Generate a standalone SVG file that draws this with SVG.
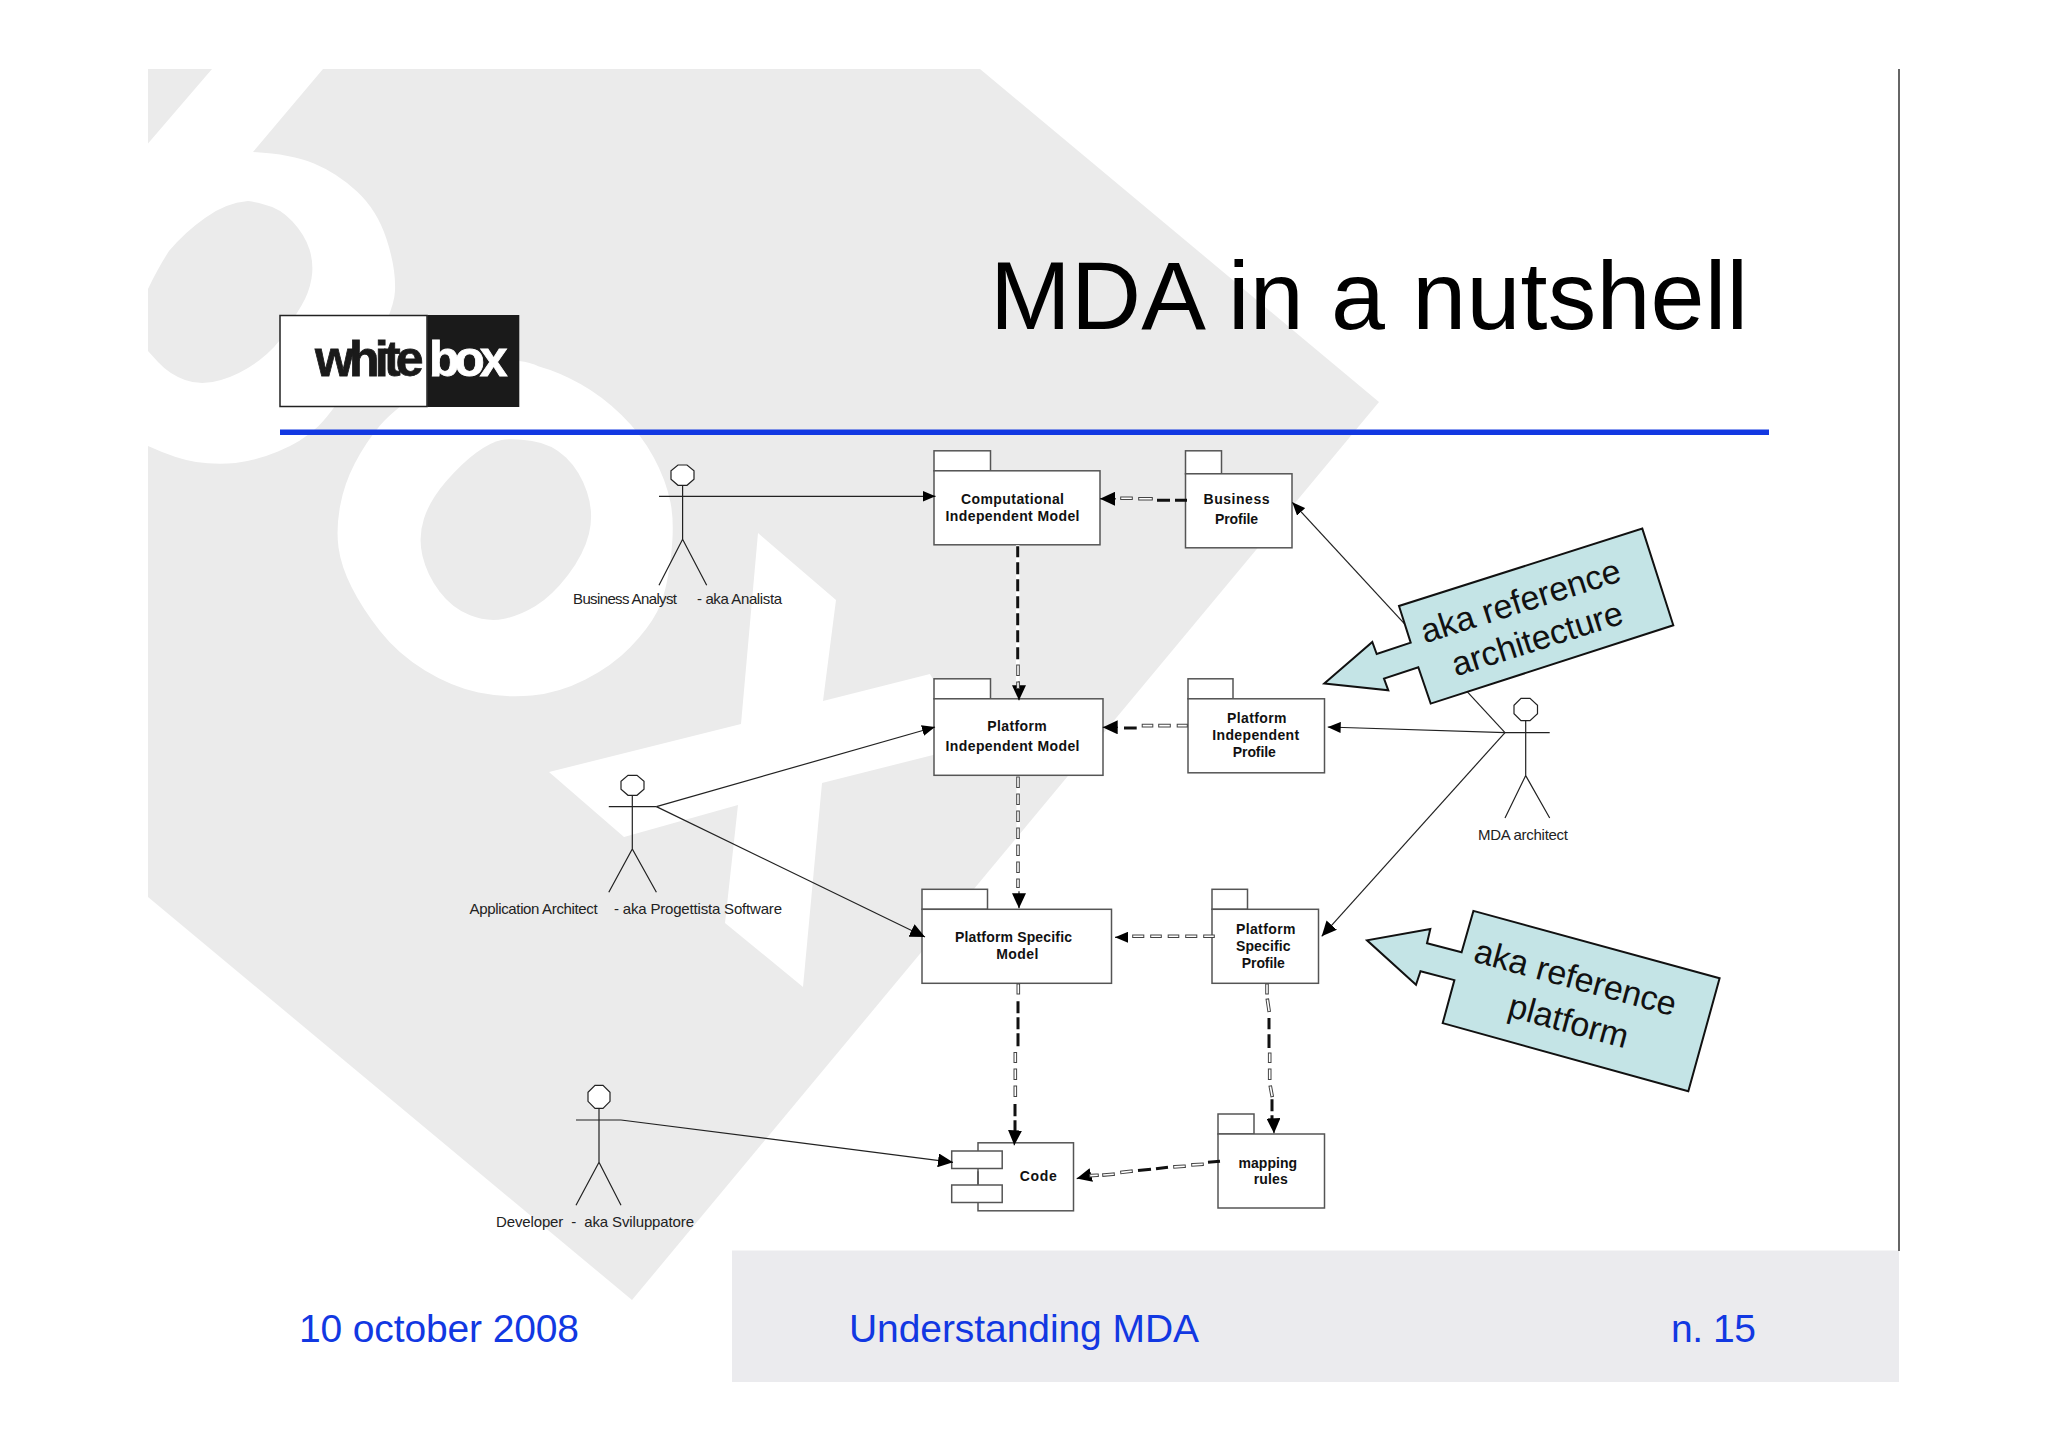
<svg xmlns="http://www.w3.org/2000/svg" width="2048" height="1448" viewBox="0 0 2048 1448">
<style>
text{font-family:"Liberation Sans",Arial,sans-serif}
.nt{font-size:14px;font-weight:bold;fill:#111;text-anchor:middle;transform:translateY(-1px)}
.al{font-size:15px;fill:#222}
.ft{font-size:39px;fill:#1238e2}
.ct{font-size:34px;fill:#111;text-anchor:middle}
.logo{font-size:50px;font-weight:bold;letter-spacing:-4.500px;stroke-width:.8}
.box{fill:#fff;stroke:#555;stroke-width:1.5}
.act{fill:none;stroke:#222;stroke-width:1.2}
.headc{fill:#fff;stroke:#222;stroke-width:1.2}
.cal{fill:#c4e4e6;stroke:#111;stroke-width:2}
.wm{fill:#fff}
.wg{fill:#ebebeb}
.ln{fill:none;stroke:#222;stroke-width:1.2}
.under{fill:none;stroke:#fff;stroke-width:3.5}
.blk{fill:none;stroke:#111;stroke-width:3}
.ho{fill:none;stroke:#444;stroke-width:3.6;stroke-linecap:square}
.hi{fill:#fff;stroke:#fff;stroke-width:1.6;stroke-linecap:square}
</style>
<defs>
<marker id="ah" markerUnits="userSpaceOnUse" markerWidth="13" markerHeight="11" viewBox="0 0 13 11" refX="13" refY="5.5" orient="auto"><path d="M0 0L13 5.5L0 11Z" fill="#000"/></marker>
<marker id="ahb" markerUnits="userSpaceOnUse" markerWidth="15" markerHeight="14" viewBox="0 0 15 14" refX="15" refY="7" orient="auto"><path d="M0 0L15 7L0 14Z" fill="#000"/></marker>
<path id="hollow" d="M1122 497H1131M1140 497.500H1151M1143.500 724.300H1151.500M1160 724.300H1169M1178.500 724.300H1186M1018 665V673M1018 682V686M1018 777V785M1018 794V802M1018 811V819M1018 828V836M1018 845V853M1018 862V870M1018 879V885M1018.300 984V991.500M1015.300 1052.500V1060M1015.300 1069V1077M1015.300 1086V1094M1134 935H1142.500M1152 935H1160M1169.500 935H1177.500M1187 935H1195.500M1205 935H1213M1267 984V991.500M1267.500 999L1269 1009M1269.700 1053V1060M1269.700 1069V1077M1270.500 1086L1272 1094M1091 1174.300L1097 1174M1104 1173.700L1113 1173M1122 1171L1131 1170M1175 1165.500L1184 1165M1193 1163.500L1202 1163"/>
</defs>
<rect width="2048" height="1448" fill="#fff"/>
<g id="watermark">
<path class="wg" d="M148 69H980L1379 402L632 1300L148 897Z"/>
<path class="wm" d="M212 69L323 69L253 152Q291 154 314 163.500Q337 173 357 191.500Q377 210 386.500 239Q396 268 395 291Q394 314 364 362.500Q334 411 318 426.500Q301.600 442 278 451.500Q255 461 235.500 463Q216 465 196 462Q176.600 459 148 446L148 143.600Z"/>
<path class="wg" d="M264 204.500Q280 208 292.500 221.500Q305 235 309.500 249.500Q314 264 311.500 278.500Q309 293 301.500 305.500Q294 318 285 332.500Q276.600 347 259 360.500Q241 374 221 380Q201.600 386 185 380Q169 374 158 362L148 351L148 289Q158 268 169 251Q185 232 205 218Q225 203 248 201Q256 202 264 204.500Z"/>
<path class="wm" d="M539 366.500Q559 372 580.500 384Q602 396 621.500 415Q641 434 653.500 457Q666 480 670.500 502.500Q675 525 670.500 560Q666 595 657 612Q648 629 630 647.500Q612 666 585.500 679.500Q559 693 532 695.500Q505 698 478.500 692.500Q452 687 425 670.500Q398 654 380 631Q362 608 351.500 587Q341 566 338.500 547.500Q336 529 340 506.500Q344 484 355 463Q366 442 380 425.500Q394 409 430 385Q470 361 519 361Q530 362 539 366.500Z"/>
<path class="wg" d="M532 441Q552 444 566 457.500Q580 471 587 492Q594 513 589 533.500Q584 554 568 575Q552 596 535.500 606Q519 616 503 619Q487 622 469.500 615Q452 608 439.500 591.500Q427 575 422.500 556Q418 537 424 518.500Q430 500 446 481.500Q462 463 476.500 452.500Q491 442 501.500 440Q512 438 532 441Z"/>
<path class="wm" d="M758 533L836 600L823 701L930 674L945 700L945 752L822 783L803 987L725 923L738 805L624 837L549 772L741 724Z"/>
</g>
<rect id="footer-band" x="732" y="1250.500" width="1167" height="131.500" fill="#ebebee"/>
<line id="right-rule" x1="1899" y1="69" x2="1899" y2="1251" stroke="#666" stroke-width="2"/>
<g id="logo">
<rect x="280" y="315.500" width="147" height="91" fill="#fff" stroke="#222" stroke-width="1.500"/>
<rect x="427.300" y="315" width="92" height="92" fill="#1a1a1a"/>
<text class="logo" x="315" y="376" fill="#1a1a1a" stroke="#1a1a1a" style="letter-spacing:-4.800px">white</text>
<text class="logo" x="429" y="376" fill="#fff" stroke="#fff" style="letter-spacing:-5.200px">box</text>
</g>
<rect id="title-rule" x="280" y="429.500" width="1489" height="5.500" fill="#1238e2"/>
<text id="title" x="990" y="329" font-size="97" fill="#000" textLength="758">MDA in a nutshell</text>
<g id="footer">
<text class="ft" x="299" y="1341.500" textLength="280">10 october 2008</text>
<text class="ft" x="849" y="1341.500" textLength="350">Understanding MDA</text>
<text class="ft" x="1671" y="1341.500" textLength="85">n. 15</text>
</g>
<g id="diagram" transform="translate(0 1.300)">
<g id="node-cim">
<rect class="box" x="934" y="449.500" width="56.500" height="20"/><rect class="box" x="934" y="469.500" width="166" height="74"/>
<text class="nt" x="1012.500" y="503.300" textLength="103">Computational</text>
<text class="nt" x="1012.500" y="520.300" textLength="134">Independent Model</text>
</g>
<g id="node-business-profile">
<rect class="box" x="1185.500" y="449.500" width="36" height="23"/><rect class="box" x="1185.500" y="472.500" width="106.500" height="74"/>
<text class="nt" x="1236.500" y="503.300" textLength="66">Business</text>
<text class="nt" x="1236.500" y="523.300" textLength="43">Profile</text>
</g>
<g id="node-pim">
<rect class="box" x="934" y="677.500" width="56.500" height="20"/><rect class="box" x="934" y="697.500" width="169" height="76.500"/>
<text class="nt" x="1017" y="731" textLength="59.500">Platform</text>
<text class="nt" x="1012.500" y="751" textLength="134">Independent Model</text>
</g>
<g id="node-pi-profile">
<rect class="box" x="1188" y="677.500" width="45" height="20"/><rect class="box" x="1188" y="697.500" width="136.500" height="74"/>
<text class="nt" x="1256.800" y="722.700" textLength="59.500">Platform</text>
<text class="nt" x="1255.700" y="740" textLength="87">Independent</text>
<text class="nt" x="1254.300" y="757" textLength="43">Profile</text>
</g>
<g id="node-psm">
<rect class="box" x="922" y="888" width="65.500" height="20"/><rect class="box" x="922" y="908" width="189.500" height="74"/>
<text class="nt" x="1013.500" y="941.700" textLength="117">Platform Specific</text>
<text class="nt" x="1017.300" y="959" textLength="42">Model</text>
</g>
<g id="node-ps-profile">
<rect class="box" x="1212" y="888" width="35.500" height="20"/><rect class="box" x="1212" y="908" width="106.500" height="74"/>
<text class="nt" x="1265.700" y="933.300" textLength="59.500">Platform</text>
<text class="nt" x="1263.200" y="950.700" textLength="54.500">Specific</text>
<text class="nt" x="1263.300" y="967.700" textLength="43">Profile</text>
</g>
<g id="node-mapping-rules">
<rect class="box" x="1218" y="1112.700" width="36" height="20"/><rect class="box" x="1218" y="1132.700" width="106.500" height="74"/>
<text class="nt" x="1267.800" y="1167.300" textLength="58.500">mapping</text>
<text class="nt" x="1270.700" y="1183.700" textLength="34">rules</text>
</g>
<g id="node-code">
<rect x="978" y="1141.500" width="95.500" height="68" class="box"/>
<rect class="box" x="951.700" y="1149.700" width="50.500" height="17.500"/>
<rect class="box" x="951.700" y="1183.700" width="50.500" height="17.500"/>
<line x1="978" y1="1170" x2="978" y2="1183" stroke="#555" stroke-width="1.500"/>
<text class="nt" x="1038.300" y="1181" textLength="37">Code</text>
</g>
<g id="actor-business-analyst">
<polygon class="headc" points="678,463.700 687,463.700 694,469.500 694,478 687,484 678,484 671,478 671,469.500"/>
<path class="act" d="M682.600 484V538M659 495H705M659 584L682.600 538L706.700 584"/>
<text class="al" x="573" y="603" textLength="104">Business Analyst</text>
<text class="al" x="697" y="603" textLength="85">- aka Analista</text>
</g>
<g id="actor-application-architect">
<polygon class="headc" points="628,774 637,774 644,780 644,788 637,794 628,794 621,788 621,780"/>
<path class="act" d="M632.300 794V847.700M608.800 805.300H656.400M608.800 891L632.300 847.700L656.400 891"/>
<text class="al" x="469.600" y="913" textLength="128">Application Architect</text>
<text class="al" x="614" y="913" textLength="168">- aka Progettista Software</text>
</g>
<g id="actor-developer">
<polygon class="headc" points="595,1084 603,1084 610,1091 610,1100 603,1107 595,1107 588,1100 588,1091"/>
<path class="act" d="M599 1107V1161M576 1118.700H621M576 1204L599 1161L621 1204"/>
<text class="al" x="496" y="1226" textLength="198" xml:space="preserve">Developer  -  aka Sviluppatore</text>
</g>
<g id="actor-mda-architect">
<polygon class="headc" points="1521,697 1530,697 1537.500,704 1537.500,712.500 1530,719.300 1521,719.300 1514,712.500 1514,704"/>
<path class="act" d="M1525.700 719.300V774.300M1505 731.300H1549.700M1505 816.700L1525.700 774.300L1549.700 816.700"/>
<text class="al" x="1478" y="839" textLength="90">MDA architect</text>
</g>
<g id="connectors">
<path class="ln" marker-end="url(#ah)" d="M705 495H935.500"/>
<path class="ln" marker-end="url(#ah)" d="M656.400 805.300L935 725.700"/>
<path class="ln" marker-end="url(#ahb)" d="M656.400 805.300L925 935.700"/>
<path class="ln" marker-end="url(#ahb)" d="M621 1118.700L953 1161"/>
<path class="ln" marker-end="url(#ah)" d="M1505 731.300L1292.300 501"/>
<path class="ln" marker-end="url(#ah)" d="M1505 731.300L1327.700 725.700"/>
<path class="ln" marker-end="url(#ahb)" d="M1505 731.300L1321.700 935"/>
<path class="under" d="M1017.700 544V690M1018.300 775V895"/>
<path class="blk" d="M1017.700 545V556M1017.700 561V573M1017.700 578V590M1017.700 595V607M1017.700 612V624M1017.700 629V641M1017.700 646V658"/>
<path class="ln" marker-end="url(#ahb)" d="M1019 680V699"/>
<path class="blk" d="M1157 499H1170M1175 499H1187"/>
<path class="ln" marker-end="url(#ahb)" d="M1116 497.500H1100"/>
<path class="blk" d="M1124 726.700H1136.700"/>
<path class="ln" marker-end="url(#ahb)" d="M1118 726H1102.700"/>
<path class="blk" d="M1018 1000V1012M1018 1016V1028M1018 1032V1045M1015 1102.700V1115M1015 1119V1132"/>
<path class="ln" marker-end="url(#ahb)" d="M1015 1130L1014.300 1144"/>
<path class="ln" marker-end="url(#ahb)" d="M1019 890V907"/>
<path class="ln" marker-end="url(#ah)" d="M1128 936H1115"/>
<path class="blk" d="M1269 1016.700V1028M1269 1033V1046.700M1272 1098V1110M1272 1114V1122"/>
<path class="ln" marker-end="url(#ahb)" d="M1273.500 1118L1274 1132"/>
<path class="blk" d="M1138 1169.300L1151 1168M1156 1167.500L1168 1166M1208 1161L1220 1160"/>
<path class="ln" marker-end="url(#ahb)" d="M1088 1174.500L1076.700 1177.300"/>
<g id="hollow-dashes">
<use href="#hollow" class="ho"/>
<use href="#hollow" class="hi"/>
</g>
</g>
<g id="callout-reference-architecture">
<polygon class="cal" points="1642.300,527.300 1673.300,624 1430.700,702.300 1418.300,666 1384,677.300 1388.300,689 1324.300,682.300 1372.300,640.700 1376.700,652.700 1410.700,641.300 1399,604.700"/>
<text class="ct" transform="translate(1524 610.700) rotate(-17.600)">aka reference</text>
<text class="ct" transform="translate(1540.700 648.300) rotate(-17.600)">architecture</text>
</g>
<g id="callout-reference-platform">
<polygon class="cal" points="1473.400,909.600 1719.600,977 1688.300,1090 1442.700,1021.800 1454.400,978.800 1420.500,970 1416,983.500 1367,939 1430.300,927.600 1427,942 1461.600,951"/>
<text class="ct" transform="translate(1572.500 987.500) rotate(15.300)">aka reference</text>
<text class="ct" transform="translate(1565.500 1031) rotate(15.300)">platform</text>
</g>
</g>
</svg>
